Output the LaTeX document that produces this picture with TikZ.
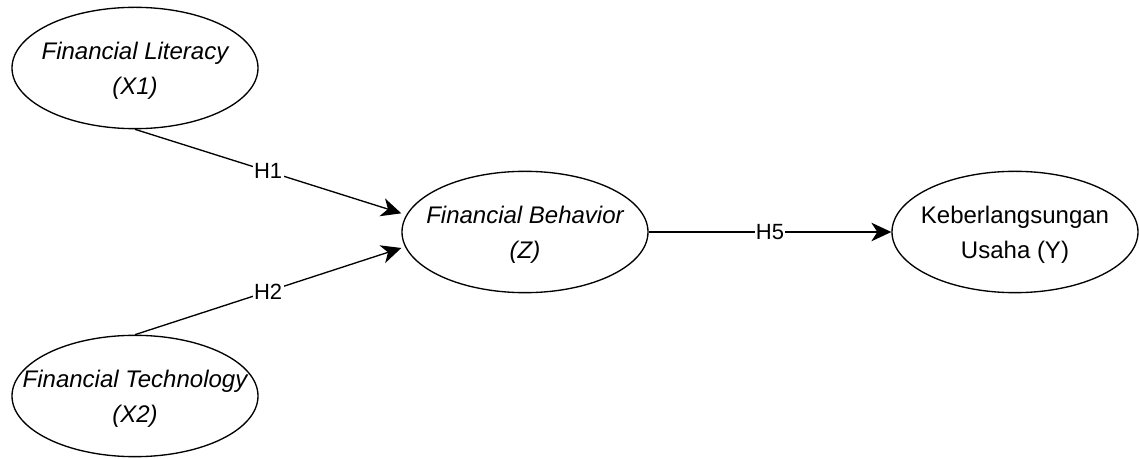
\documentclass[tikz,border=0pt]{standalone}
\usepackage{fontspec}
\setmainfont{Liberation Sans}
\usetikzlibrary{positioning, arrows.meta, shapes.geometric}

\begin{document}
\begin{tikzpicture}[x=0.75pt, y=-0.75pt,
  var/.style={ellipse, draw, line width=1pt, minimum width=184.5pt, minimum height=91pt, inner sep=0pt},
  txt/.style={align=center, inner sep=0pt, font=\fontsize{18}{26}\selectfont},
  itxt/.style={txt, font=\fontsize{18}{26}\selectfont\itshape},
  hyp/.style={fill=white, inner sep=1pt, font=\fontsize{16.5}{20}\selectfont},
  link/.style={line width=1pt, -{Stealth[length=15pt, width=14pt, inset=4.5pt]}}]
\useasboundingbox (0,0) rectangle (1139,459);
% nodes
\node[var, label={[itxt, yshift=-2pt]center:Financial Literacy\\(X1)}] (X1) at (135,68) {};
\node[var, label={[itxt, yshift=-2pt]center:Financial Technology\\(X2)}] (X2) at (135,396) {};
\node[var, label={[itxt, yshift=-2pt]center:Financial Behavior\\(Z)}] (Z) at (525,232) {};
\node[var, label={[txt, yshift=-2pt]center:Keberlangsungan\\Usaha (Y)}] (Y) at (1015,232) {};

% edges
\draw[link] (X1.south) -- node[hyp] {H1} ([yshift=14pt]Z.west);
\draw[link] (X2.north) -- node[hyp] {H2} ([yshift=-12pt]Z.west);
\draw[link] (Z.east) -- node[hyp] {H5} (Y.west);
\end{tikzpicture}
\end{document}
